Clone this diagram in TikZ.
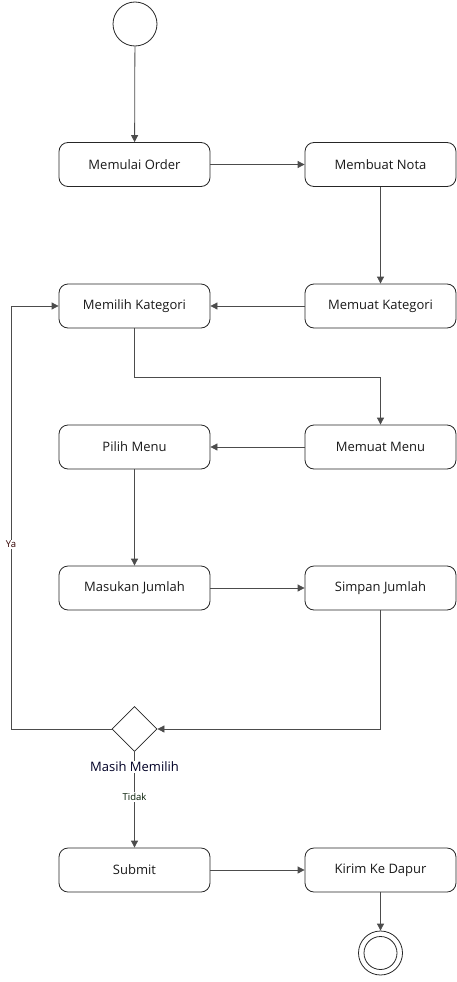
\documentclass[tikz,border=0pt]{standalone}
\usepackage{fontspec}
\setmainfont{Open Sans}
\usetikzlibrary{arrows.meta,shapes.geometric}
\begin{document}
\begin{tikzpicture}[x=1pt,y=-1pt,
  act/.style={draw=black!85,line width=0.8pt,rounded corners=9pt,minimum width=151pt,minimum height=44pt,font=\fontsize{13}{15}\selectfont,text=black!90,inner sep=0pt},
  conn/.style={draw=black!70,line width=0.8pt,-{Triangle[length=7pt,width=7pt]}},
  lbl/.style={fill=white,font=\fontsize{9.5}{11}\selectfont,inner sep=1pt}]
\useasboundingbox (0,0) rectangle (457,982);
\node[circle,draw=black!85,line width=0.8pt,minimum size=44pt,inner sep=0pt] (start) at (135,24) {};
\node[act] (mo) at (134.5,164.5) {Memulai Order};
\node[act] (mn) at (380.5,164.5) {Membuat Nota};
\node[act] (mk) at (134.5,306) {Memilih Kategori};
\node[act] (mm) at (380.5,306) {Memuat Kategori};
\node[act] (pm) at (134.5,447) {Pilih Menu};
\node[act] (mu) at (380.5,447) {Memuat Menu};
\node[act] (mj) at (134.5,588) {Masukan Jumlah};
\node[act] (sj) at (380.5,588) {Simpan Jumlah};
\node[diamond,draw=black!85,line width=0.8pt,minimum size=45pt,inner sep=0pt] (dec) at (134.5,729) {};
\node[act] (sb) at (134.5,870) {Submit};
\node[act] (kd) at (380.5,870) {Kirim Ke Dapur};
\node[circle,draw=black!85,line width=0.8pt,minimum size=44pt,inner sep=0pt] (end) at (380.5,953) {};
\node[circle,draw=black!85,line width=0.8pt,minimum size=33pt,inner sep=0pt] (endin) at (end) {};
\coordinate (c1) at (134.5,377);
\coordinate (c2) at (380.5,377);
\coordinate (c3) at (380.5,729);
\coordinate (c4) at (11,729);
\coordinate (c5) at (11,306);
\draw[conn] (start) -- (mo);
\draw[conn] (mo) -- (mn);
\draw[conn] (mn) -- (mm);
\draw[conn] (mm) -- (mk);
\draw[conn] (mk.south) -- (c1) -- (c2) -- (mu.north);
\draw[conn] (mu) -- (pm);
\draw[conn] (pm) -- (mj);
\draw[conn] (mj) -- (sj);
\draw[conn] (sj.south) -- (c3) -- (dec.east);
\draw[conn] (dec.west) -- (c4) -- node[lbl,pos=0.437,text=black!80!red] {Ya} (c5) -- (mk.west);
\draw[conn] (dec.south) -- node[lbl,pos=0.47,text=black!90!green] {Tidak} (sb.north);
\draw[conn] (sb) -- (kd);
\draw[conn] (kd) -- (end);
\node[fill=white,font=\fontsize{13}{15}\selectfont,text=black!85!blue,inner sep=1pt] (declbl) at (134.5,767) {Masih Memilih};
\end{tikzpicture}
\end{document}
